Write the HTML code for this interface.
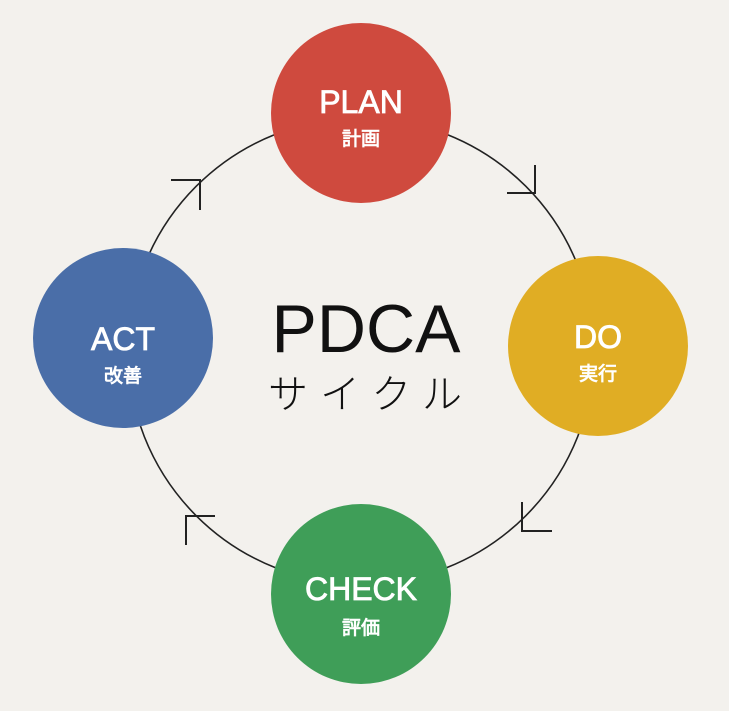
<!DOCTYPE html>
<html><head><meta charset="utf-8"><style>
html,body{margin:0;padding:0;background:#f3f1ed;}
svg{display:block}
</style></head><body>
<svg width="729" height="711" viewBox="0 0 729 711" xmlns="http://www.w3.org/2000/svg">
<rect width="729" height="711" fill="#f3f1ed"/>
<circle cx="361" cy="351" r="233" fill="none" stroke="#222" stroke-width="1.6"/>
<g stroke="#222" stroke-width="2" fill="none">
<path d="M171 180 H200 V210"/>
<path d="M535 165 V193 H507"/>
<path d="M552 531 H522 V502"/>
<path d="M215 516 H186 V545"/>
</g>
<circle cx="361" cy="113" r="90" fill="#cf4a3e"/>
<circle cx="598" cy="346" r="90" fill="#e0ad24"/>
<circle cx="361" cy="594" r="90" fill="#3f9e58"/>
<circle cx="123" cy="338" r="90" fill="#4a6ea8"/>
<g fill="#fff" stroke="#fff" stroke-width="0.8" text-anchor="middle" font-family="Liberation Sans, Noto Sans CJK JP, sans-serif">
<text x="361" y="113" font-size="32">PLAN</text>
<text x="361" y="145" font-size="19">計画</text>
<text x="598" y="348" font-size="32">DO</text>
<text x="598" y="380" font-size="19">実行</text>
<text x="361" y="600" font-size="32">CHECK</text>
<text x="361" y="634" font-size="19">評価</text>
<text x="123" y="350" font-size="32">ACT</text>
<text x="123" y="382" font-size="19">改善</text>
</g>
<text x="366" y="352" text-anchor="middle" font-size="68" fill="#111" font-family="Liberation Sans, sans-serif">PDCA</text>
<text x="268" y="408" font-size="40" fill="#111" letter-spacing="12" font-family="Liberation Sans, Noto Sans CJK JP, sans-serif" font-weight="300">サイクル</text>
</svg>
</body></html>
